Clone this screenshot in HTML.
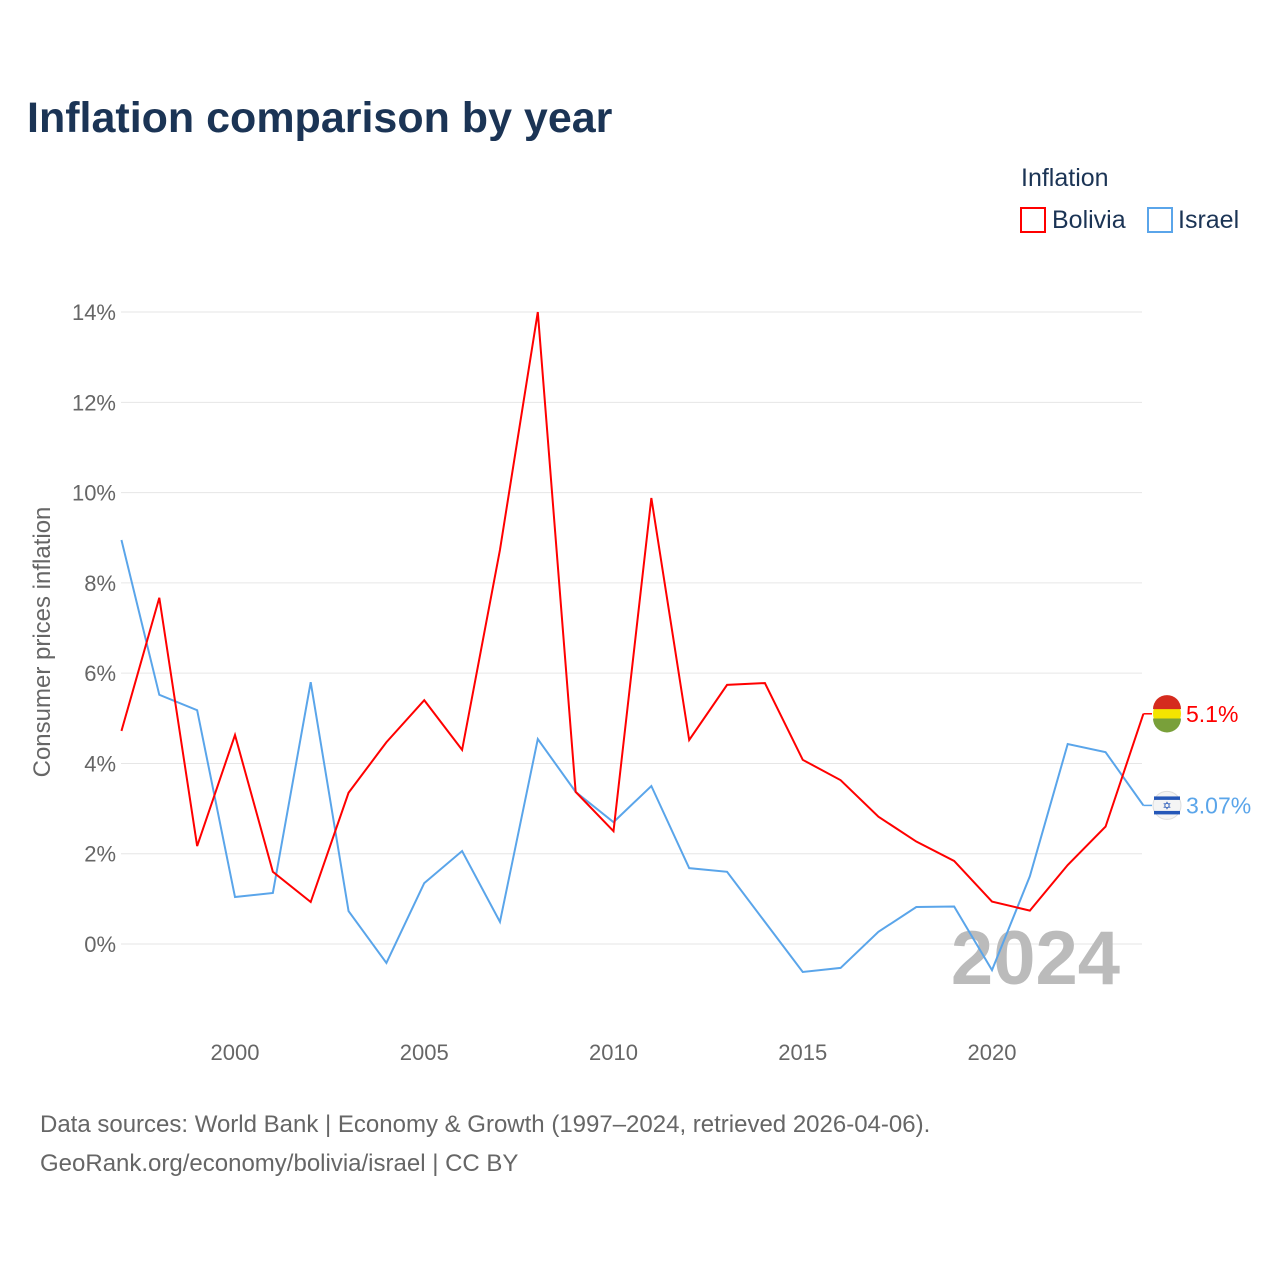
<!DOCTYPE html>
<html><head><meta charset="utf-8"><style>
body{margin:0;background:#fff;font-family:"Liberation Sans",sans-serif;}
</style></head><body>
<svg width="1280" height="1280" xmlns="http://www.w3.org/2000/svg">
<text x="27" y="132" font-size="43" font-weight="bold" fill="#1b3455">Inflation comparison by year</text>
<text x="1021" y="186" font-size="25" fill="#1b3455">Inflation</text>
<g><rect x="1021" y="208" width="24" height="24" fill="none" stroke="#ff0000" stroke-width="2"/><text x="1052" y="228" font-size="25" fill="#1b3455">Bolivia</text></g>
<g><rect x="1148" y="208" width="24" height="24" fill="none" stroke="#5aa5ea" stroke-width="2"/><text x="1178" y="228" font-size="25" fill="#1b3455">Israel</text></g>
<g id="grid"></g><g id="yt"></g><g id="xt"></g>
<text transform="translate(50,642) rotate(-90)" text-anchor="middle" font-size="24" fill="#666">Consumer prices inflation</text>
<text x="1120" y="984" text-anchor="end" font-size="76" font-weight="bold" fill="#bbb">2024</text>
<g id="series"></g>
<text x="40" y="1132" font-size="24" fill="#666">Data sources: World Bank | Economy &amp; Growth (1997–2024, retrieved 2026-04-06).</text>
<text x="40" y="1171" font-size="24" fill="#666">GeoRank.org/economy/bolivia/israel | CC BY</text>
</svg>
<script>
const years=[1997,1998,1999,2000,2001,2002,2003,2004,2005,2006,2007,2008,2009,2010,2011,2012,2013,2014,2015,2016,2017,2018,2019,2020,2021,2022,2023,2024];
const bolivia=[4.72,7.67,2.17,4.63,1.6,0.93,3.35,4.47,5.4,4.3,8.73,14.0,3.37,2.5,9.88,4.52,5.74,5.78,4.08,3.63,2.82,2.27,1.84,0.94,0.74,1.75,2.6,5.1];
const israel=[8.95,5.52,5.18,1.04,1.13,5.8,0.73,-0.42,1.35,2.06,0.49,4.54,3.37,2.7,3.5,1.68,1.6,0.49,-0.62,-0.53,0.27,0.82,0.83,-0.58,1.5,4.43,4.25,3.07];
const yTicks=[0,2,4,6,8,10,12,14];
const xTicks=[2000,2005,2010,2015,2020];
const NS="http://www.w3.org/2000/svg";
const X=y=>235+(y-2000)*37.85;
const Y=v=>944-v*45.14;
function mk(t,a,p){const e=document.createElementNS(NS,t);for(const k in a)e.setAttribute(k,a[k]);p.appendChild(e);return e;}
const g=document.getElementById('grid'),yt=document.getElementById('yt'),xt=document.getElementById('xt'),s=document.getElementById('series');
yTicks.forEach(v=>{
 const l=mk('line',{x1:121,x2:1142,y1:Y(v),y2:Y(v),stroke:'#e6e6e6','stroke-width':1},g);
 
 
 const t=mk('text',{x:116,y:Y(v)+8,'text-anchor':'end','font-size':22,fill:'#666'},yt);
 t.textContent=v+'%';
 
 
});
xTicks.forEach(v=>{
 const t=mk('text',{x:X(v),y:1060,'text-anchor':'middle','font-size':22,fill:'#666'},xt);
 t.textContent=v;
 
 
});
function line(vals,color,name,label){
 const pts=vals.map((v,i)=>X(years[i])+','+Y(v)).join(' ');
 const p=mk('polyline',{points:pts,fill:'none',stroke:color,'stroke-width':2},s);
 
 
 const last=vals[vals.length-1];
 const ly=Y(last);
 mk('line',{x1:X(2024),x2:1152,y1:ly,y2:ly,stroke:color,'stroke-width':1.5},s);
 const f=mk('g',{},s);
 
 
 const cx=1167;
 if(name==='bolivia'){
  mk('circle',{cx:cx,cy:ly,r:14,fill:'#f4e400'},f);
  mk('path',{d:`M${cx-14},${ly-4.7} A14,14 0 0 1 ${cx+14},${ly-4.7} Z`,fill:'#d52b1e'},f);
  mk('path',{d:`M${cx-14},${ly+4.7} A14,14 0 0 0 ${cx+14},${ly+4.7} Z`,fill:'#79a03a'},f);
 } else {
  mk('circle',{cx:cx,cy:ly,r:14,fill:'#f4f4f4',stroke:'#ddd'},f);
  mk('rect',{x:cx-13,y:ly-9,width:26,height:3.5,fill:'#2557b8'},f);
  mk('rect',{x:cx-13,y:ly+5.5,width:26,height:3.5,fill:'#2557b8'},f);
  const st=mk('text',{x:cx,y:ly+4,'text-anchor':'middle','font-size':11,fill:'#2557b8'},f);
  st.textContent='✡';
 }
 const t=mk('text',{x:1186,y:ly+8,'font-size':23,fill:color},s);
 t.textContent=label(last);
 
 
}
line(israel,'#5aa5ea','israel',v=>v.toFixed(2)+'%');
line(bolivia,'#ff0000','bolivia',v=>v.toFixed(1)+'%');
</script>
</body></html>
